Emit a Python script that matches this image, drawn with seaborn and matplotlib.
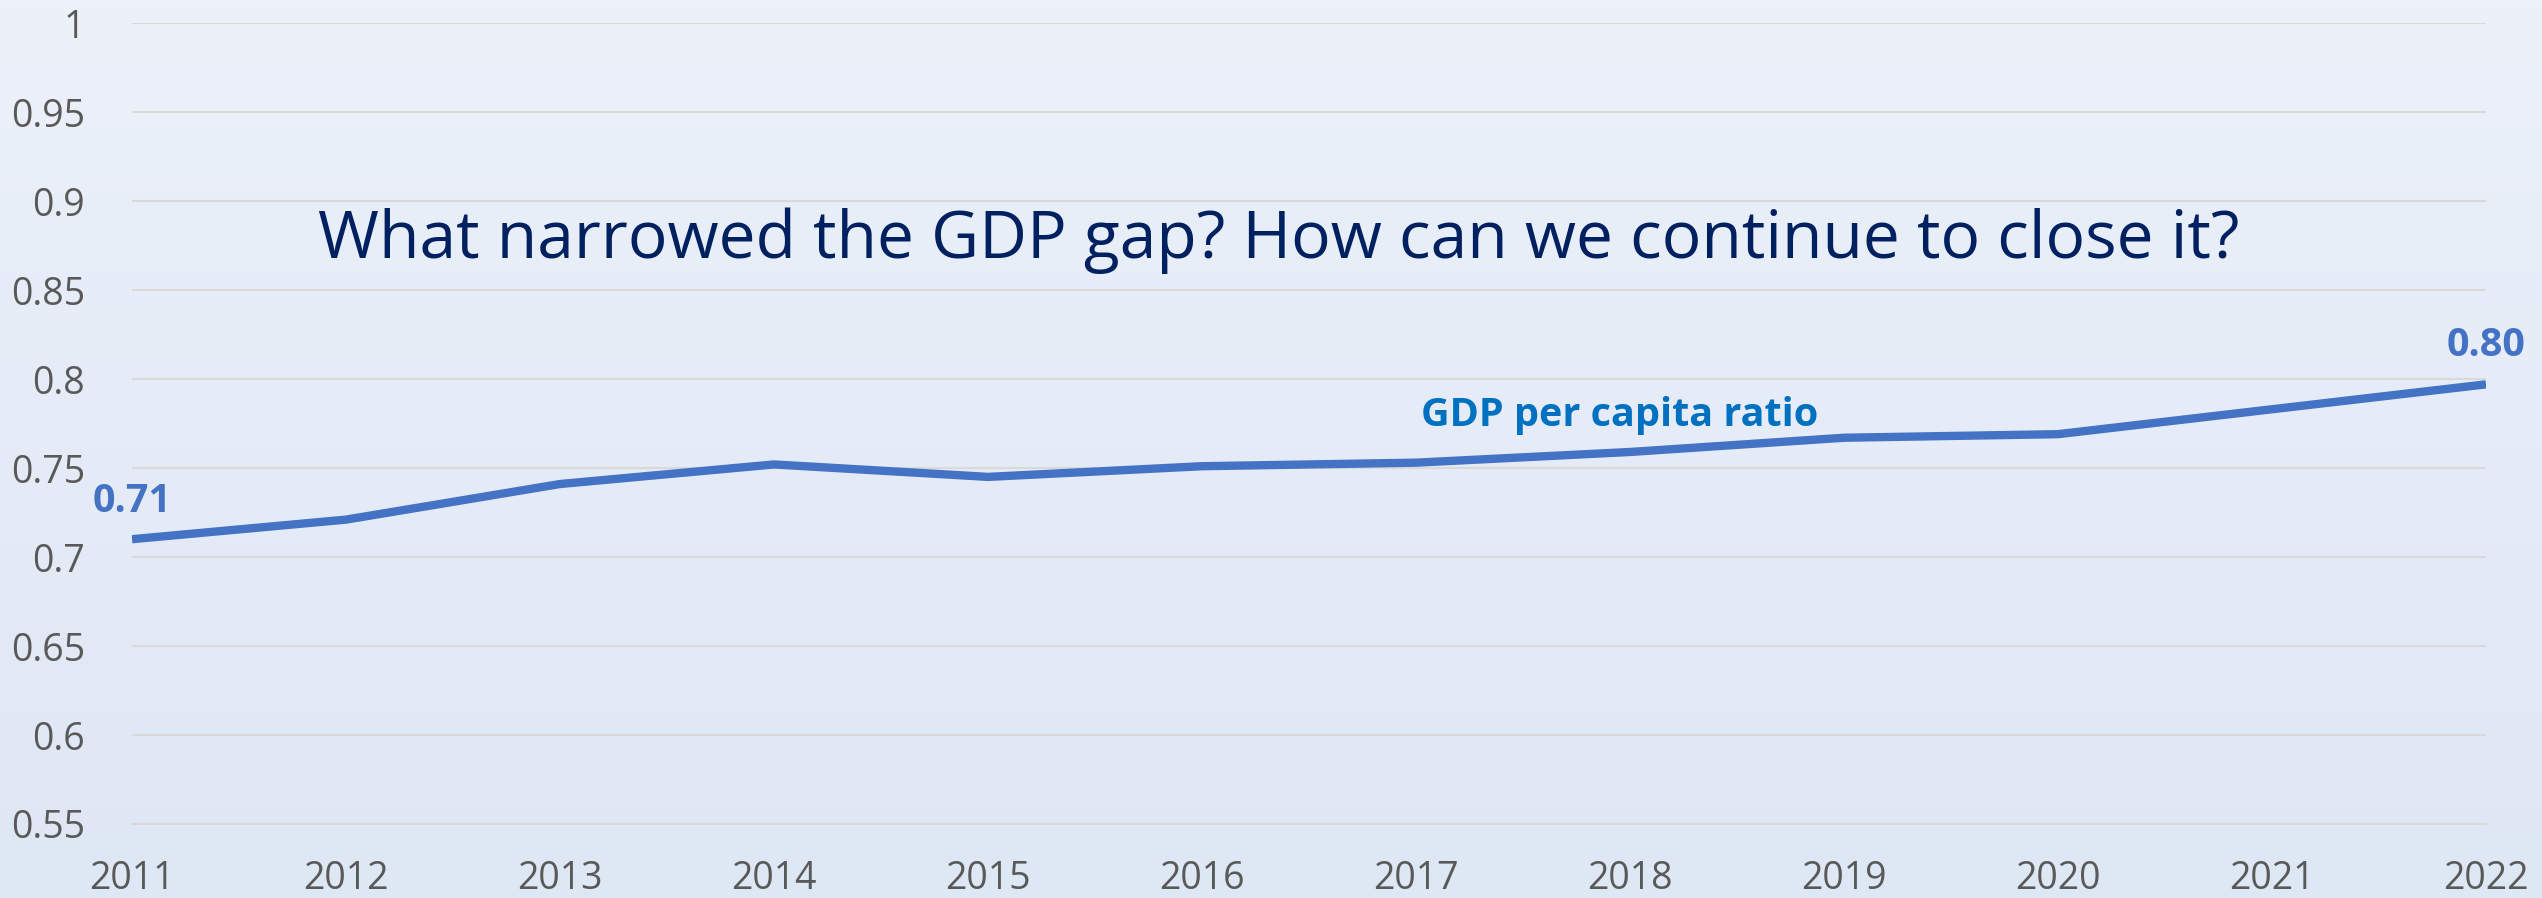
import numpy as np
import pandas as pd
import matplotlib
matplotlib.use("Agg")
import matplotlib.pyplot as plt
import seaborn as sns

years = [2011, 2012, 2013, 2014, 2015, 2016, 2017, 2018, 2019, 2020, 2021, 2022]
ratio = [0.710, 0.721, 0.741, 0.752, 0.745, 0.751, 0.753, 0.759, 0.767, 0.769, 0.783, 0.797]
y_ticks = [0.55, 0.6, 0.65, 0.7, 0.75, 0.8, 0.85, 0.9, 0.95, 1.0]
y_tick_labels = ["0.55", "0.6", "0.65", "0.7", "0.75", "0.8", "0.85", "0.9", "0.95", "1"]
title_text = "What narrowed the GDP gap? How can we continue to close it?"
series_label = "GDP per capita ratio"
first_label = "0.71"
last_label = "0.80"

sns.set_theme(style="white")
plt.rcParams['font.family'] = ['Open Sans', 'DejaVu Sans']

W, H, DPI = 2542, 898, 100
fig = plt.figure(figsize=(W / DPI, H / DPI), dpi=DPI)

# background gradient
bg = fig.add_axes([0, 0, 1, 1], zorder=-10)
top = np.array([236, 241, 250]) / 255
bot = np.array([222, 231, 244]) / 255
t = np.linspace(0, 1, 256)[:, None]
grad = top[None, :] * (1 - t) + bot[None, :] * t
bg.imshow(grad[:, None, :].repeat(2, axis=1), aspect="auto", extent=[0, 1, 0, 1])
bg.axis("off")

left, right = 132 / W, 2486 / W
bottom, topf = 1 - 824 / H, 1 - 23 / H
ax = fig.add_axes([left, bottom, right - left, topf - bottom])
ax.patch.set_alpha(0)

df = pd.DataFrame({"year": years, "ratio": ratio})
sns.lineplot(data=df, x="year", y="ratio", ax=ax, color="#4472C4", linewidth=6,
             solid_capstyle="butt", zorder=3)

ax.set_xlim(years[0], years[-1])
ax.set_ylim(0.55, 1.0)
ax.set_yticks(y_ticks)
ax.set_yticklabels(y_tick_labels)
ax.set_xticks(years)
ax.set_xticklabels([str(y) for y in years])
ax.set_xlabel("")
ax.set_ylabel("")
ax.grid(axis="y", color="#D9D9D9", linewidth=1.5)
ax.grid(axis="x", visible=False)
for s in ["top", "right", "left"]:
    ax.spines[s].set_visible(False)
ax.spines["bottom"].set_color("#D9D9D9")
ax.spines["bottom"].set_linewidth(1.5)
ax.tick_params(axis="x", colors="#595959", labelsize=27, length=12, width=1.5,
               direction="out", pad=14)
ax.tick_params(axis="x", color="#D9D9D9")
ax.tick_params(axis="y", colors="#595959", labelsize=27, length=0, pad=34)

ax.text(2016.36, 0.8775, title_text, ha="center", va="center", fontsize=47.5,
        color="#002060")
ax.text(2017.95, 0.7795, series_label, ha="center", va="center", fontsize=28.5,
        color="#0070C0", fontweight="bold")
ax.text(years[0], ratio[0] + 0.0105, first_label, ha="center", va="bottom",
        fontsize=28.5, color="#4472C4", fontweight="bold")
ax.text(years[-1], ratio[-1] + 0.011, last_label, ha="center", va="bottom",
        fontsize=28.5, color="#4472C4", fontweight="bold")

fig.savefig("out.png", dpi=DPI)
